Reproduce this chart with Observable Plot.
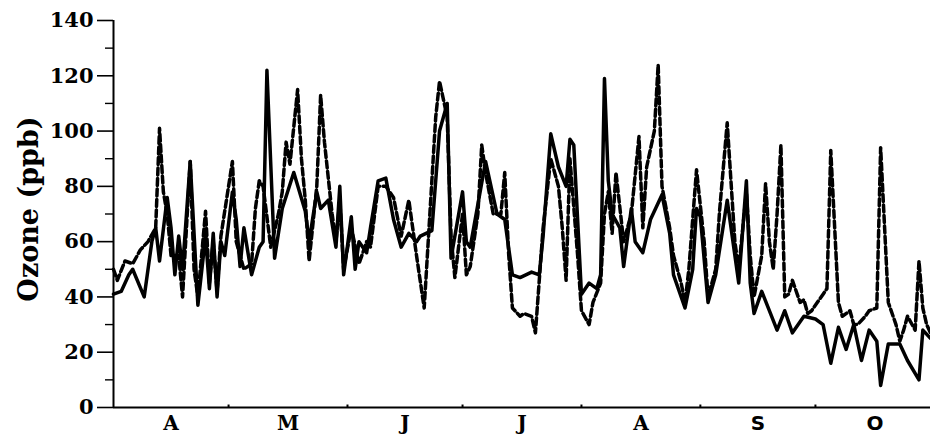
<!DOCTYPE html>
<html>
<head>
<meta charset="utf-8">
<script src="https://cdn.jsdelivr.net/npm/d3@7"></script>
<script src="https://cdn.jsdelivr.net/npm/@observablehq/plot@0.6"></script>
<style>
  html, body { margin: 0; padding: 0; background: #fff; }
  #chart svg { display: block; }
</style>
</head>
<body>
<div id="chart"></div>
<script>
// Days counted from 1 April (day 0) to 31 October (day 213)
const solidDay = [0,2,4,5,8,10,11,12,14,15,16,17,18,20,22,24,25,26,27,28,29,31,32,33,34,36,38,39,40,42,44,47,50,51,53,54,56,58,59,60,62,63,64,66,67,69,71,73,75,77,79,80,83,85,87,88,91,92,93,97,100,102,104,106,109,111,112,114,116,118,119,120,122,124,126,127,128,129,130,132,133,135,136,138,140,143,145,146,149,151,152,153,155,157,160,163,165,166,167,169,173,175,177,180,183,185,187,189,191,193,195,197,199,200,202,205,207,210,211,213];
const solidO3 = [41,42,48,50,40,60,65,53,76,65,48,62,50,89,37,62,43,63,40,60,55,78,68,51,65,48,58,60,122,54,72,85,71,60,78,72,75,58,80,48,69,50,60,56,65,82,83,68,58,63,60,62,64,100,110,54,78,60,58,89,70,68,48,47,49,48,62,99,87,80,97,95,41,45,43,48,119,82,70,65,51,72,60,56,68,77,63,48,36,50,72,69,38,48,75,45,82,45,34,42,28,35,27,33,32,30,16,29,21,30,17,28,24,8,23,23,17,10,28,25];

const dashedDay = [0,1,3,5,7,9,11,12,13,14,15,17,18,20,21,22,24,25,26,27,28,31,32,34,36,37,38,39,41,43,44,45,46,48,49,50,51,53,54,55,57,58,59,60,62,64,66,67,69,71,73,75,77,78,79,81,83,84,85,87,88,89,91,92,93,95,96,97,99,101,102,103,104,106,107,109,110,112,114,116,117,118,119,121,122,124,125,127,128,129,130,131,133,135,137,138,139,141,142,143,145,146,148,149,150,152,154,155,157,158,160,162,163,165,166,167,169,170,171,172,173,174,175,176,177,179,180,181,182,185,186,187,189,190,192,193,194,196,197,199,200,202,204,205,206,207,209,210,211,212,213];
const dashedO3 = [50,46,53,52,57,60,65,101,78,70,55,55,40,89,50,40,71,45,60,42,62,89,60,50,52,72,82,80,58,70,78,96,88,115,90,75,53,80,113,96,70,60,75,50,65,52,60,58,80,80,76,62,75,65,55,36,82,105,118,105,62,47,70,48,51,70,95,85,70,70,85,56,36,33,34,33,27,65,90,80,65,46,90,55,35,30,38,45,70,78,63,85,60,70,98,65,87,100,124,80,65,55,45,38,50,86,60,40,50,71,103,60,50,78,55,40,55,81,60,50,70,95,40,41,46,38,39,34,35,41,43,93,38,33,35,30,30,33,35,36,94,38,30,24,28,33,28,53,36,30,27];

const monthLabels = ["A","M","J","J","A","S","O"];
const monthMidDay = [15, 45.5, 76, 106.5, 137.5, 168, 198.5];
const monthStartDay = [30, 61, 91, 122, 153, 183];
const yMajor = [0,20,40,60,80,100,120,140];
const yMinor = [10,30,50,70,90,110,130];
const yLabel = "Ozone (ppb)";

const t0 = Date.UTC(1990, 3, 1);
const toDate = d => new Date(t0 + d * 864e5);

const solid = solidDay.map((d, i) => ({date: toDate(d), o3: solidO3[i]}));
const dashed = dashedDay.map((d, i) => ({date: toDate(d), o3: dashedO3[i]}));
const mids = monthMidDay.map(toDate);
const labelMap = new Map(mids.map((d, i) => [+d, monthLabels[i]]));
const serifMids = mids.slice(0, 5);
const sansMids = mids.slice(5);

const chart = Plot.plot({
  width: 930,
  height: 434,
  marginLeft: 113,
  marginRight: 0,
  marginTop: 20,
  marginBottom: 27,
  x: {type: "utc", domain: [toDate(0), toDate(213)]},
  y: {domain: [0, 140]},
  marks: [
    Plot.axisY({ticks: yMajor, tickSize: 16, tickPadding: 4, strokeWidth: 1.6,
      fontSize: 21, fontWeight: "bold", fontFamily: "DejaVu Serif", fill: "#000", label: null}),
    Plot.axisY({ticks: yMinor, tickSize: 8, strokeWidth: 1.4, tickFormat: () => "", label: null}),
    Plot.axisX({ticks: serifMids, tickSize: 0, tickPadding: 8, tickFormat: d => labelMap.get(+d),
      fontSize: 20, fontWeight: "bold", fontFamily: "DejaVu Serif", fill: "#000", label: null}),
    Plot.axisX({ticks: sansMids, tickSize: 0, tickPadding: 8, tickFormat: d => labelMap.get(+d),
      fontSize: 20, fontWeight: "bold", fontFamily: "DejaVu Sans", fill: "#000", label: null}),
    Plot.ruleX(monthStartDay.map(toDate), {y1: 0, y2: 0.9, stroke: "#000", strokeWidth: 2}),
    Plot.ruleY([0], {stroke: "#000", strokeWidth: 2}),
    Plot.ruleX([toDate(0)], {stroke: "#000", strokeWidth: 2}),
    Plot.line(dashed, {x: "date", y: "o3", stroke: "#000", strokeWidth: 3.5, strokeDasharray: "7,3.5"}),
    Plot.line(solid, {x: "date", y: "o3", stroke: "#000", strokeWidth: 3.5}),
    Plot.text([yLabel], {text: d => d, frameAnchor: "left", textAnchor: "middle", dx: -84, dy: -5, rotate: -90,
      fontSize: 27, fontWeight: "bold", fontFamily: "DejaVu Serif", fill: "#000", letterSpacing: 1})
  ]
});
document.getElementById("chart").appendChild(chart);
</script>
</body>
</html>
